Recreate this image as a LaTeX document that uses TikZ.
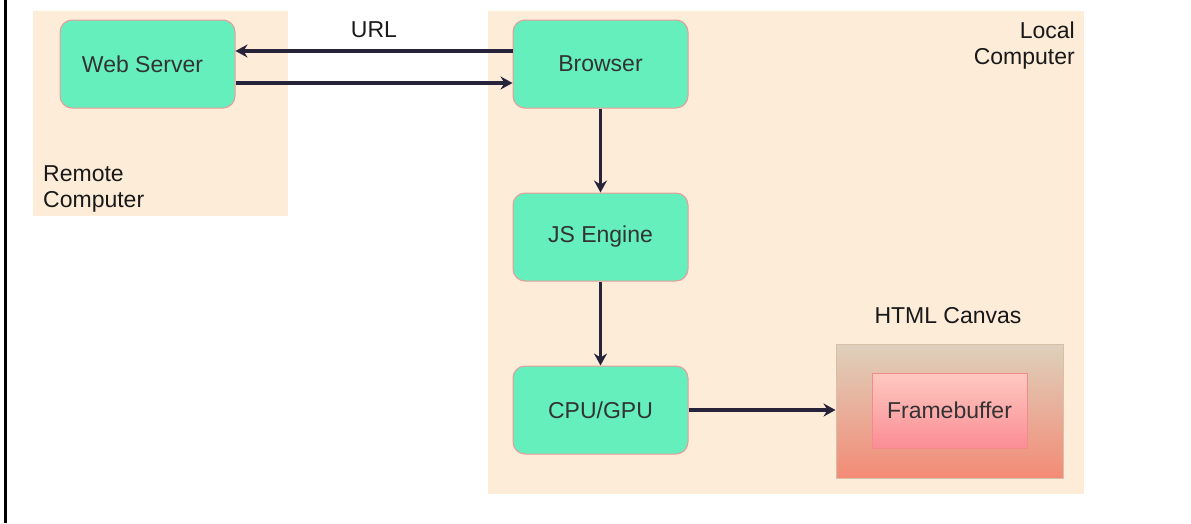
\documentclass[tikz,border=0pt]{standalone}
\usepackage{fontspec}
\setmainfont{Liberation Sans}
\usetikzlibrary{arrows.meta}
\definecolor{panel}{HTML}{FCECD8}
\definecolor{boxfill}{HTML}{64EFBD}
\definecolor{boxline}{HTML}{EE9A9A}
\definecolor{wire}{HTML}{26233A}
\definecolor{canvastop}{HTML}{DED1BC}
\definecolor{canvasbot}{HTML}{F38B76}
\definecolor{canvasline}{HTML}{D8C0A8}
\definecolor{fbtop}{HTML}{FEC9C0}
\definecolor{fbbot}{HTML}{FB8D95}
\definecolor{fbline}{HTML}{F58A8A}
\tikzset{
  procbox/.style={draw=boxline, line width=1pt, fill=boxfill, rounded corners=12pt,
    minimum width=175pt, minimum height=88pt, inner sep=0pt, font=\fontsize{23}{26}\selectfont, text=black!80},
  lbl/.style={font=\fontsize{23}{26}\selectfont, inner sep=0pt, text=black!90},
  wirearrow/.style={draw=wire, line width=3.2pt, -{Stealth[length=12pt,width=13pt,inset=4pt]}}
}
\begin{document}
\begin{tikzpicture}[x=1pt,y=-1pt]
\useasboundingbox (0,0) rectangle (1191,523);
\fill[white] (0,0) rectangle (1191,523);
% left rule
\draw[black, line width=3pt] (5.5,0) -- (5.5,523);
% computer panels
\fill[panel] (33,11) rectangle (288,216);
\fill[panel] (488,11) rectangle (1084,494);
\node[lbl, align=left, anchor=north west] (remote) at (43,165) {Remote\\Computer};
\node[lbl, align=right, anchor=north east] (local) at (1075,22) {Local\\Computer};
% processing stages
\node[procbox] (web) at (147.5,64) {Web Server\hspace*{10pt}};
\node[procbox] (browser) at (600.5,64) {Browser};
\node[procbox] (js) at (600.5,237) {JS Engine};
\node[procbox] (cpu) at (600.5,410) {CPU/GPU};
% HTML canvas with its framebuffer
\node[draw=canvasline, line width=1pt, top color=canvastop, bottom color=canvasbot,
  minimum width=227pt, minimum height=134pt, inner sep=0pt] (canvas) at (949.5,411) {};
\node[draw=fbline, line width=1pt, top color=fbtop, bottom color=fbbot,
  minimum width=155pt, minimum height=75pt, inner sep=0pt, font=\fontsize{23}{26}\selectfont, text=black!80]
  (fb) at (949.5,410.5) {Framebuffer};
\node[lbl] (canvaslbl) at (948,316) {HTML Canvas};
% connectors
\draw[wirearrow] ([yshift=13pt]browser.west) -- ([yshift=13pt]web.east)
  node[lbl, pos=0.5, above=12pt] (url) {URL};
\draw[wirearrow] ([yshift=-19pt]web.east) -- ([yshift=-19pt]browser.west);
\draw[wirearrow] (browser) -- (js);
\draw[wirearrow] (js) -- (cpu);
\draw[wirearrow] (cpu.east) -- (canvas.west |- cpu.east);
\end{tikzpicture}
\end{document}
